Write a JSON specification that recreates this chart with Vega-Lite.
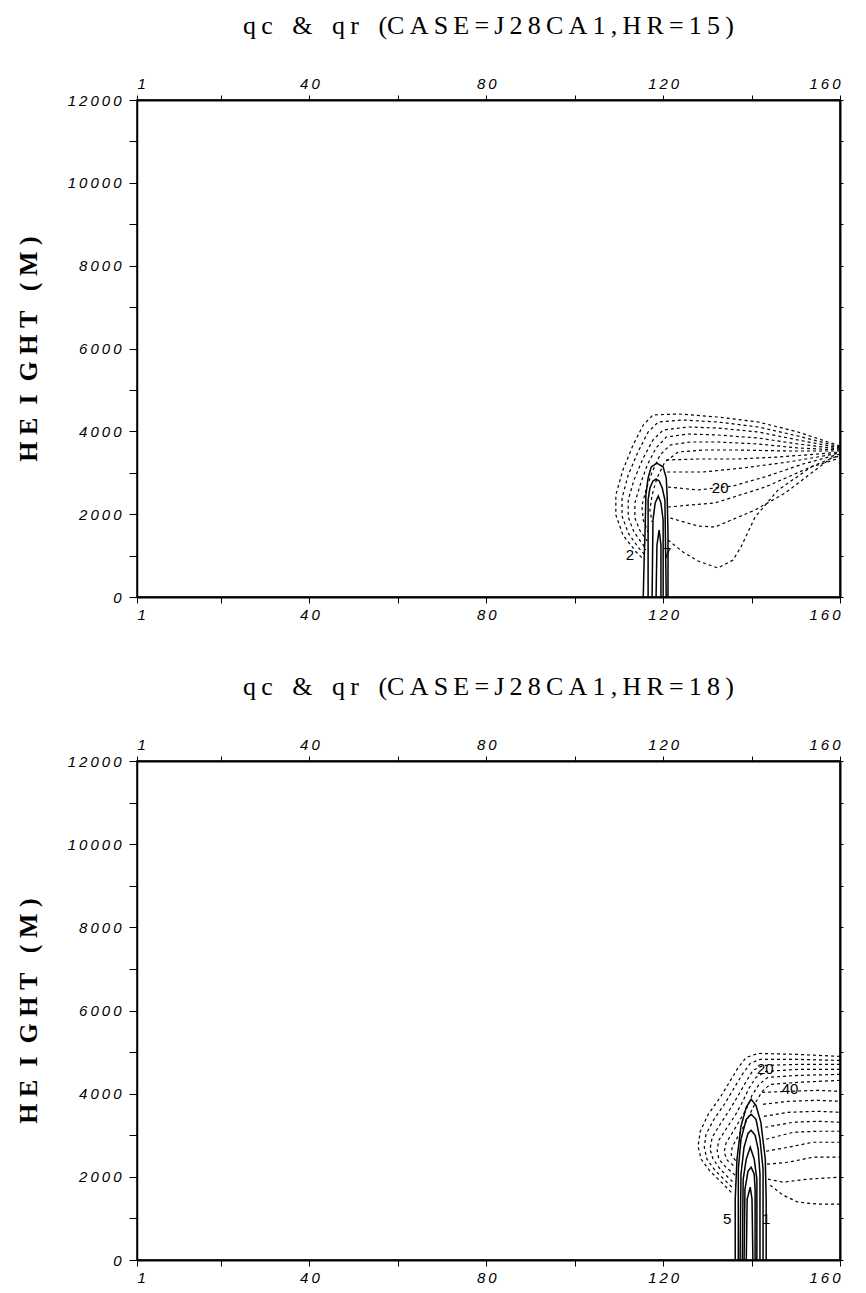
{
  "$schema": "https://vega.github.io/schema/vega-lite/v6.json",
  "background": "white",
  "padding": {"left": 14, "top": 12, "right": 10, "bottom": 5},
  "spacing": 50,
  "datasets": {
    "c15": [
      {"id":"A1","s":"dotted","x":160,"h":3646},{"id":"A1","s":"dotted","x":150.5,"h":3984},{"id":"A1","s":"dotted","x":141.5,"h":4225},{"id":"A1","s":"dotted","x":132.4,"h":4346},{"id":"A1","s":"dotted","x":123.4,"h":4420},{"id":"A1","s":"dotted","x":117.7,"h":4395},{"id":"A1","s":"dotted","x":115.5,"h":4153},{"id":"A1","s":"dotted","x":113.2,"h":3670},{"id":"A1","s":"dotted","x":110.9,"h":3066},{"id":"A1","s":"dotted","x":109.3,"h":2463},{"id":"A1","s":"dotted","x":109.3,"h":1980},{"id":"A1","s":"dotted","x":110.9,"h":1497},{"id":"A1","s":"dotted","x":113.9,"h":1087},{"id":"A1","s":"dotted","x":115.7,"h":893},
      {"id":"A2","s":"dotted","x":160,"h":3622},{"id":"A2","s":"dotted","x":150.5,"h":3887},{"id":"A2","s":"dotted","x":141.5,"h":4105},{"id":"A2","s":"dotted","x":132.4,"h":4225},{"id":"A2","s":"dotted","x":124.5,"h":4274},{"id":"A2","s":"dotted","x":118.9,"h":4225},{"id":"A2","s":"dotted","x":116.6,"h":3984},{"id":"A2","s":"dotted","x":114.3,"h":3501},{"id":"A2","s":"dotted","x":112.1,"h":2946},{"id":"A2","s":"dotted","x":110.7,"h":2390},{"id":"A2","s":"dotted","x":110.7,"h":1956},{"id":"A2","s":"dotted","x":112.1,"h":1545},{"id":"A2","s":"dotted","x":114.3,"h":1207},{"id":"A2","s":"dotted","x":115.9,"h":1014},
      {"id":"A3","s":"dotted","x":160,"h":3598},{"id":"A3","s":"dotted","x":150.5,"h":3791},{"id":"A3","s":"dotted","x":141.5,"h":3984},{"id":"A3","s":"dotted","x":132.4,"h":4080},{"id":"A3","s":"dotted","x":125.6,"h":4105},{"id":"A3","s":"dotted","x":120.0,"h":4032},{"id":"A3","s":"dotted","x":117.7,"h":3791},{"id":"A3","s":"dotted","x":115.5,"h":3356},{"id":"A3","s":"dotted","x":113.4,"h":2825},{"id":"A3","s":"dotted","x":112.1,"h":2342},{"id":"A3","s":"dotted","x":112.1,"h":1932},{"id":"A3","s":"dotted","x":113.4,"h":1569},{"id":"A3","s":"dotted","x":115.5,"h":1256},{"id":"A3","s":"dotted","x":116.1,"h":1135},
      {"id":"A4","s":"dotted","x":160,"h":3573},{"id":"A4","s":"dotted","x":150.5,"h":3694},{"id":"A4","s":"dotted","x":141.5,"h":3839},{"id":"A4","s":"dotted","x":132.4,"h":3911},{"id":"A4","s":"dotted","x":125.6,"h":3936},{"id":"A4","s":"dotted","x":120.7,"h":3863},{"id":"A4","s":"dotted","x":118.4,"h":3598},{"id":"A4","s":"dotted","x":116.4,"h":3187},{"id":"A4","s":"dotted","x":114.8,"h":2704},{"id":"A4","s":"dotted","x":113.6,"h":2270},{"id":"A4","s":"dotted","x":113.6,"h":1907},{"id":"A4","s":"dotted","x":114.8,"h":1594},{"id":"A4","s":"dotted","x":116.4,"h":1352},
      {"id":"A5","s":"dotted","x":160,"h":3549},{"id":"A5","s":"dotted","x":150.5,"h":3598},{"id":"A5","s":"dotted","x":141.5,"h":3694},{"id":"A5","s":"dotted","x":132.4,"h":3742},{"id":"A5","s":"dotted","x":126.1,"h":3742},{"id":"A5","s":"dotted","x":121.6,"h":3670},{"id":"A5","s":"dotted","x":119.3,"h":3429},{"id":"A5","s":"dotted","x":117.5,"h":3018},{"id":"A5","s":"dotted","x":116.1,"h":2584},{"id":"A5","s":"dotted","x":115.2,"h":2197},{"id":"A5","s":"dotted","x":115.5,"h":1859},{"id":"A5","s":"dotted","x":116.6,"h":1569},
      {"id":"A6","s":"dotted","x":160,"h":3525},{"id":"A6","s":"dotted","x":148.3,"h":3525},{"id":"A6","s":"dotted","x":137.0,"h":3549},{"id":"A6","s":"dotted","x":129.0,"h":3549},{"id":"A6","s":"dotted","x":123.4,"h":3501},{"id":"A6","s":"dotted","x":120.4,"h":3260},{"id":"A6","s":"dotted","x":118.6,"h":2873},{"id":"A6","s":"dotted","x":117.5,"h":2463},{"id":"A6","s":"dotted","x":117.0,"h":2101},{"id":"A6","s":"dotted","x":117.5,"h":1811},
      {"id":"B0a","s":"dotted","x":120.7,"h":3308},{"id":"B0a","s":"dotted","x":127.9,"h":3332},{"id":"B0a","s":"dotted","x":137.0,"h":3332},{"id":"B0a","s":"dotted","x":146.0,"h":3380},{"id":"B0a","s":"dotted","x":155.0,"h":3453},{"id":"B0a","s":"dotted","x":160,"h":3501},
      {"id":"B0b","s":"dotted","x":120.9,"h":3018},{"id":"B0b","s":"dotted","x":129.0,"h":3018},{"id":"B0b","s":"dotted","x":138.1,"h":3115},{"id":"B0b","s":"dotted","x":148.3,"h":3260},{"id":"B0b","s":"dotted","x":156.2,"h":3404},{"id":"B0b","s":"dotted","x":160,"h":3477},
      {"id":"B1","s":"dotted","x":121.1,"h":2656},{"id":"B1","s":"dotted","x":127.9,"h":2584},{"id":"B1","s":"dotted","x":135.8,"h":2680},{"id":"B1","s":"dotted","x":143.7,"h":2922},{"id":"B1","s":"dotted","x":151.6,"h":3211},{"id":"B1","s":"dotted","x":160,"h":3453},
      {"id":"B2","s":"dotted","x":121.1,"h":2173},{"id":"B2","s":"dotted","x":131.7,"h":2270},{"id":"B2","s":"dotted","x":143.1,"h":2656},{"id":"B2","s":"dotted","x":154.4,"h":3187},{"id":"B2","s":"dotted","x":160,"h":3429},
      {"id":"B3","s":"dotted","x":121.6,"h":1907},{"id":"B3","s":"dotted","x":127.9,"h":1714},{"id":"B3","s":"dotted","x":131.7,"h":1690},{"id":"B3","s":"dotted","x":140.8,"h":2101},{"id":"B3","s":"dotted","x":147.6,"h":2511},{"id":"B3","s":"dotted","x":158.0,"h":3356},{"id":"B3","s":"dotted","x":160,"h":3404},
      {"id":"B4","s":"dotted","x":121.1,"h":1376},{"id":"B4","s":"dotted","x":124.5,"h":1087},{"id":"B4","s":"dotted","x":127.9,"h":869},{"id":"B4","s":"dotted","x":132.4,"h":700},{"id":"B4","s":"dotted","x":135.8,"h":893},{"id":"B4","s":"dotted","x":137.6,"h":1207},{"id":"B4","s":"dotted","x":140.8,"h":1932},{"id":"B4","s":"dotted","x":146.0,"h":2584},{"id":"B4","s":"dotted","x":153.5,"h":3139},{"id":"B4","s":"dotted","x":160,"h":3356},
      {"id":"S1","s":"solid","x":115.5,"h":0},{"id":"S1","s":"solid","x":115.7,"h":893},{"id":"S1","s":"solid","x":115.9,"h":1545},{"id":"S1","s":"solid","x":116.1,"h":2463},{"id":"S1","s":"solid","x":116.6,"h":2873},{"id":"S1","s":"solid","x":117.3,"h":3139},{"id":"S1","s":"solid","x":118.6,"h":3235},{"id":"S1","s":"solid","x":120.0,"h":3139},{"id":"S1","s":"solid","x":120.7,"h":2873},{"id":"S1","s":"solid","x":120.9,"h":2463},{"id":"S1","s":"solid","x":121.1,"h":1545},{"id":"S1","s":"solid","x":121.1,"h":0},
      {"id":"S2","s":"solid","x":116.6,"h":0},{"id":"S2","s":"solid","x":116.6,"h":2342},{"id":"S2","s":"solid","x":117.0,"h":2632},{"id":"S2","s":"solid","x":117.7,"h":2801},{"id":"S2","s":"solid","x":118.4,"h":2849},{"id":"S2","s":"solid","x":119.1,"h":2801},{"id":"S2","s":"solid","x":119.8,"h":2632},{"id":"S2","s":"solid","x":120.4,"h":2342},{"id":"S2","s":"solid","x":120.7,"h":0},
      {"id":"S3","s":"solid","x":117.5,"h":0},{"id":"S3","s":"solid","x":117.7,"h":1859},{"id":"S3","s":"solid","x":118.2,"h":2270},{"id":"S3","s":"solid","x":118.9,"h":2439},{"id":"S3","s":"solid","x":119.5,"h":2270},{"id":"S3","s":"solid","x":120.0,"h":1859},{"id":"S3","s":"solid","x":120.0,"h":0},
      {"id":"S4","s":"solid","x":118.4,"h":0},{"id":"S4","s":"solid","x":118.6,"h":1256},{"id":"S4","s":"solid","x":119.1,"h":1618},{"id":"S4","s":"solid","x":119.5,"h":1256},{"id":"S4","s":"solid","x":119.5,"h":0}
    ],
    "l15": [
      {"t":"20","x":132.9,"h":2632},{"t":"2","x":112.5,"h":1014},{"t":"7","x":120.9,"h":1062}
    ],
    "c18": [
      {"id":"C1","s":"dotted","x":160,"h":4896},{"id":"C1","s":"dotted","x":150.5,"h":4944},{"id":"C1","s":"dotted","x":141.5,"h":4968},{"id":"C1","s":"dotted","x":138.8,"h":4872},{"id":"C1","s":"dotted","x":137.0,"h":4632},{"id":"C1","s":"dotted","x":135.1,"h":4296},{"id":"C1","s":"dotted","x":132.9,"h":3912},{"id":"C1","s":"dotted","x":130.2,"h":3504},{"id":"C1","s":"dotted","x":128.4,"h":3096},{"id":"C1","s":"dotted","x":127.9,"h":2736},{"id":"C1","s":"dotted","x":128.6,"h":2424},{"id":"C1","s":"dotted","x":130.6,"h":2136},{"id":"C1","s":"dotted","x":133.6,"h":1824},{"id":"C1","s":"dotted","x":135.8,"h":1584},
      {"id":"C2","s":"dotted","x":160,"h":4800},{"id":"C2","s":"dotted","x":150.5,"h":4824},{"id":"C2","s":"dotted","x":141.9,"h":4824},{"id":"C2","s":"dotted","x":139.7,"h":4728},{"id":"C2","s":"dotted","x":137.9,"h":4464},{"id":"C2","s":"dotted","x":136.0,"h":4128},{"id":"C2","s":"dotted","x":134.0,"h":3768},{"id":"C2","s":"dotted","x":131.5,"h":3384},{"id":"C2","s":"dotted","x":129.7,"h":3024},{"id":"C2","s":"dotted","x":129.3,"h":2712},{"id":"C2","s":"dotted","x":129.9,"h":2424},{"id":"C2","s":"dotted","x":131.7,"h":2160},{"id":"C2","s":"dotted","x":134.2,"h":1896},{"id":"C2","s":"dotted","x":136.0,"h":1704},
      {"id":"C3","s":"dotted","x":160,"h":4704},{"id":"C3","s":"dotted","x":150.5,"h":4704},{"id":"C3","s":"dotted","x":142.6,"h":4680},{"id":"C3","s":"dotted","x":140.3,"h":4560},{"id":"C3","s":"dotted","x":138.8,"h":4296},{"id":"C3","s":"dotted","x":137.0,"h":3960},{"id":"C3","s":"dotted","x":135.1,"h":3624},{"id":"C3","s":"dotted","x":132.9,"h":3264},{"id":"C3","s":"dotted","x":131.1,"h":2952},{"id":"C3","s":"dotted","x":130.6,"h":2664},{"id":"C3","s":"dotted","x":131.3,"h":2424},{"id":"C3","s":"dotted","x":132.9,"h":2184},{"id":"C3","s":"dotted","x":135.1,"h":1944},{"id":"C3","s":"dotted","x":136.3,"h":1824},
      {"id":"C4","s":"dotted","x":160,"h":4584},{"id":"C4","s":"dotted","x":150.5,"h":4584},{"id":"C4","s":"dotted","x":143.3,"h":4536},{"id":"C4","s":"dotted","x":141.0,"h":4392},{"id":"C4","s":"dotted","x":139.4,"h":4128},{"id":"C4","s":"dotted","x":137.9,"h":3792},{"id":"C4","s":"dotted","x":136.3,"h":3480},{"id":"C4","s":"dotted","x":134.2,"h":3144},{"id":"C4","s":"dotted","x":132.6,"h":2880},{"id":"C4","s":"dotted","x":132.2,"h":2640},{"id":"C4","s":"dotted","x":132.6,"h":2424},{"id":"C4","s":"dotted","x":134.2,"h":2232},{"id":"C4","s":"dotted","x":136.3,"h":2040},
      {"id":"C5","s":"dotted","x":160,"h":4464},{"id":"C5","s":"dotted","x":150.5,"h":4440},{"id":"C5","s":"dotted","x":143.7,"h":4392},{"id":"C5","s":"dotted","x":141.7,"h":4224},{"id":"C5","s":"dotted","x":140.1,"h":3960},{"id":"C5","s":"dotted","x":138.8,"h":3624},{"id":"C5","s":"dotted","x":137.2,"h":3336},{"id":"C5","s":"dotted","x":135.6,"h":3048},{"id":"C5","s":"dotted","x":134.2,"h":2808},{"id":"C5","s":"dotted","x":133.8,"h":2592},{"id":"C5","s":"dotted","x":134.5,"h":2400},{"id":"C5","s":"dotted","x":136.3,"h":2232},
      {"id":"C6","s":"dotted","x":160,"h":4320},{"id":"C6","s":"dotted","x":150.5,"h":4272},{"id":"C6","s":"dotted","x":144.2,"h":4224},{"id":"C6","s":"dotted","x":142.4,"h":4056},{"id":"C6","s":"dotted","x":140.8,"h":3768},{"id":"C6","s":"dotted","x":139.4,"h":3456},{"id":"C6","s":"dotted","x":138.1,"h":3192},{"id":"C6","s":"dotted","x":136.7,"h":2928},{"id":"C6","s":"dotted","x":135.6,"h":2712},{"id":"C6","s":"dotted","x":135.4,"h":2520},{"id":"C6","s":"dotted","x":136.5,"h":2376},
      {"id":"D0","s":"dotted","x":142.4,"h":4032},{"id":"D0","s":"dotted","x":148.3,"h":4056},{"id":"D0","s":"dotted","x":155.0,"h":4080},{"id":"D0","s":"dotted","x":160,"h":4056},
      {"id":"D1","s":"dotted","x":142.6,"h":3744},{"id":"D1","s":"dotted","x":148.3,"h":3816},{"id":"D1","s":"dotted","x":155.0,"h":3840},{"id":"D1","s":"dotted","x":160,"h":3816},
      {"id":"D2","s":"dotted","x":142.8,"h":3456},{"id":"D2","s":"dotted","x":148.3,"h":3552},{"id":"D2","s":"dotted","x":155.0,"h":3576},{"id":"D2","s":"dotted","x":160,"h":3552},
      {"id":"D3","s":"dotted","x":143.1,"h":3192},{"id":"D3","s":"dotted","x":149.4,"h":3312},{"id":"D3","s":"dotted","x":155.0,"h":3336},{"id":"D3","s":"dotted","x":160,"h":3312},
      {"id":"D4","s":"dotted","x":143.3,"h":2904},{"id":"D4","s":"dotted","x":149.4,"h":3072},{"id":"D4","s":"dotted","x":155.0,"h":3096},{"id":"D4","s":"dotted","x":160,"h":3096},
      {"id":"D5","s":"dotted","x":143.3,"h":2616},{"id":"D5","s":"dotted","x":148.3,"h":2712},{"id":"D5","s":"dotted","x":153.9,"h":2832},{"id":"D5","s":"dotted","x":160,"h":2832},
      {"id":"D6","s":"dotted","x":143.5,"h":2304},{"id":"D6","s":"dotted","x":148.3,"h":2352},{"id":"D6","s":"dotted","x":153.9,"h":2472},{"id":"D6","s":"dotted","x":160,"h":2472},
      {"id":"D7","s":"dotted","x":143.7,"h":1944},{"id":"D7","s":"dotted","x":147.1,"h":1872},{"id":"D7","s":"dotted","x":152.8,"h":1944},{"id":"D7","s":"dotted","x":160,"h":1992},
      {"id":"D8","s":"dotted","x":144.2,"h":1800},{"id":"D8","s":"dotted","x":147.1,"h":1560},{"id":"D8","s":"dotted","x":150.5,"h":1392},{"id":"D8","s":"dotted","x":155.0,"h":1344},{"id":"D8","s":"dotted","x":160,"h":1344},
      {"id":"E1","s":"solid","x":136.3,"h":0},{"id":"E1","s":"solid","x":136.3,"h":1464},{"id":"E1","s":"solid","x":136.7,"h":2424},{"id":"E1","s":"solid","x":137.6,"h":3216},{"id":"E1","s":"solid","x":138.8,"h":3672},{"id":"E1","s":"solid","x":139.9,"h":3864},{"id":"E1","s":"solid","x":141.0,"h":3720},{"id":"E1","s":"solid","x":142.1,"h":3312},{"id":"E1","s":"solid","x":143.1,"h":2424},{"id":"E1","s":"solid","x":143.3,"h":1464},{"id":"E1","s":"solid","x":143.3,"h":0},
      {"id":"E2","s":"solid","x":137.0,"h":0},{"id":"E2","s":"solid","x":137.0,"h":2184},{"id":"E2","s":"solid","x":137.6,"h":2904},{"id":"E2","s":"solid","x":138.8,"h":3384},{"id":"E2","s":"solid","x":139.9,"h":3504},{"id":"E2","s":"solid","x":141.0,"h":3384},{"id":"E2","s":"solid","x":141.9,"h":2904},{"id":"E2","s":"solid","x":142.6,"h":2184},{"id":"E2","s":"solid","x":142.6,"h":0},
      {"id":"E3","s":"solid","x":137.4,"h":0},{"id":"E3","s":"solid","x":137.6,"h":2064},{"id":"E3","s":"solid","x":138.3,"h":2712},{"id":"E3","s":"solid","x":139.2,"h":3048},{"id":"E3","s":"solid","x":139.9,"h":3120},{"id":"E3","s":"solid","x":140.8,"h":3000},{"id":"E3","s":"solid","x":141.5,"h":2664},{"id":"E3","s":"solid","x":141.9,"h":2064},{"id":"E3","s":"solid","x":141.9,"h":0},
      {"id":"E4","s":"solid","x":137.9,"h":0},{"id":"E4","s":"solid","x":138.1,"h":1944},{"id":"E4","s":"solid","x":138.8,"h":2424},{"id":"E4","s":"solid","x":139.7,"h":2712},{"id":"E4","s":"solid","x":140.6,"h":2424},{"id":"E4","s":"solid","x":141.2,"h":1944},{"id":"E4","s":"solid","x":141.2,"h":0},
      {"id":"E5","s":"solid","x":138.3,"h":0},{"id":"E5","s":"solid","x":138.5,"h":1704},{"id":"E5","s":"solid","x":139.2,"h":2136},{"id":"E5","s":"solid","x":139.9,"h":2232},{"id":"E5","s":"solid","x":140.6,"h":2064},{"id":"E5","s":"solid","x":140.8,"h":1704},{"id":"E5","s":"solid","x":140.8,"h":0},
      {"id":"E6","s":"solid","x":138.8,"h":0},{"id":"E6","s":"solid","x":139.0,"h":1464},{"id":"E6","s":"solid","x":139.7,"h":1752},{"id":"E6","s":"solid","x":140.1,"h":1464},{"id":"E6","s":"solid","x":140.3,"h":0}
    ],
    "l18": [
      {"t":"20","x":143.1,"h":4584},{"t":"40","x":148.7,"h":4104},{"t":"5","x":134.5,"h":984},{"t":"1","x":143.3,"h":984}
    ]
  },
  "vconcat": [
    {
      "title": {"text": "q\u2009c\u00a0\u00a0\u00a0&\u00a0\u00a0\u00a0q\u2009r\u00a0\u00a0\u00a0(C\u2009A\u2009S\u2009E\u2009=\u2009J\u20092\u20098\u2009C\u2009A\u20091\u2009,\u2009H\u2009R\u2009=\u20091\u20095\u2009)"},
      "width": 703,
      "height": 497,
      "layer": [
        {
          "data": {"name": "c15"},
          "mark": {"type": "line", "color": "black"},
          "encoding": {
            "x": {"field": "x", "type": "quantitative", "scale": {"domain": [1, 160], "nice": false, "zero": false},
                  "axis": {"orient": "bottom", "title": null, "values": [1,20,40,60,80,100,120,140,160], "format": "d", "labelExpr": "(datum.value == 1 || datum.value % 40 == 0) ? join(split(datum.label,''),'\u2009') : ''", "tickSize": 6, "labelPadding": 4, "domainWidth": 2}},
            "y": {"field": "h", "type": "quantitative", "scale": {"domain": [0, 12000], "nice": false},
                  "axis": {"orient": "left", "title": "H\u00a0E\u00a0\u00a0I\u00a0\u00a0G\u00a0H\u00a0T\u00a0\u00a0\u00a0(\u00a0M\u00a0)", "values": [0,1000,2000,3000,4000,5000,6000,7000,8000,9000,10000,11000,12000], "format": "d", "labelExpr": "datum.value % 2000 == 0 ? join(split(datum.label,''),'\u2009') : ''", "tickSize": 8, "labelPadding": 8, "domainWidth": 1.5}},
            "detail": {"field": "id"},
            "strokeDash": {"field": "s", "type": "nominal", "scale": {"domain": ["solid", "dotted"], "range": [[1, 0], [3, 3]]}, "legend": null},
            "strokeWidth": {"field": "s", "type": "nominal", "scale": {"domain": ["solid", "dotted"], "range": [1.5, 1.2]}, "legend": null},
            "order": {"value": null}
          }
        },
        {
          "data": {"name": "l15"},
          "mark": {"type": "text", "font": "Liberation Sans", "fontSize": 15, "color": "black"},
          "encoding": {
            "x": {"field": "x", "type": "quantitative", "scale": {"domain": [1, 160], "nice": false, "zero": false},
                  "axis": {"orient": "top", "title": null, "values": [1,20,40,60,80,100,120,140,160], "format": "d", "labelExpr": "(datum.value == 1 || datum.value % 40 == 0) ? join(split(datum.label,''),'\u2009') : ''", "tickSize": 5, "labelPadding": 4, "domainWidth": 2}},
            "y": {"field": "h", "type": "quantitative", "scale": {"domain": [0, 12000], "nice": false},
                  "axis": {"orient": "right", "title": null, "labels": false, "values": [0,1000,2000,3000,4000,5000,6000,7000,8000,9000,10000,11000,12000], "tickSize": 3, "domainWidth": 2}},
            "text": {"field": "t"}
          }
        }
      ],
      "resolve": {"axis": {"x": "independent", "y": "independent"}}
    },
    {
      "title": {"text": "q\u2009c\u00a0\u00a0\u00a0&\u00a0\u00a0\u00a0q\u2009r\u00a0\u00a0\u00a0(C\u2009A\u2009S\u2009E\u2009=\u2009J\u20092\u20098\u2009C\u2009A\u20091\u2009,\u2009H\u2009R\u2009=\u20091\u20098\u2009)"},
      "width": 703,
      "height": 499,
      "layer": [
        {
          "data": {"name": "c18"},
          "mark": {"type": "line", "color": "black"},
          "encoding": {
            "x": {"field": "x", "type": "quantitative", "scale": {"domain": [1, 160], "nice": false, "zero": false},
                  "axis": {"orient": "bottom", "title": null, "values": [1,20,40,60,80,100,120,140,160], "format": "d", "labelExpr": "(datum.value == 1 || datum.value % 40 == 0) ? join(split(datum.label,''),'\u2009') : ''", "tickSize": 6, "labelPadding": 4, "domainWidth": 2}},
            "y": {"field": "h", "type": "quantitative", "scale": {"domain": [0, 12000], "nice": false},
                  "axis": {"orient": "left", "title": "H\u00a0E\u00a0\u00a0I\u00a0\u00a0G\u00a0H\u00a0T\u00a0\u00a0\u00a0(\u00a0M\u00a0)", "values": [0,1000,2000,3000,4000,5000,6000,7000,8000,9000,10000,11000,12000], "format": "d", "labelExpr": "datum.value % 2000 == 0 ? join(split(datum.label,''),'\u2009') : ''", "tickSize": 8, "labelPadding": 8, "domainWidth": 1.5}},
            "detail": {"field": "id"},
            "strokeDash": {"field": "s", "type": "nominal", "scale": {"domain": ["solid", "dotted"], "range": [[1, 0], [3, 3]]}, "legend": null},
            "strokeWidth": {"field": "s", "type": "nominal", "scale": {"domain": ["solid", "dotted"], "range": [1.5, 1.2]}, "legend": null},
            "order": {"value": null}
          }
        },
        {
          "data": {"name": "l18"},
          "mark": {"type": "text", "font": "Liberation Sans", "fontSize": 15, "color": "black"},
          "encoding": {
            "x": {"field": "x", "type": "quantitative", "scale": {"domain": [1, 160], "nice": false, "zero": false},
                  "axis": {"orient": "top", "title": null, "values": [1,20,40,60,80,100,120,140,160], "format": "d", "labelExpr": "(datum.value == 1 || datum.value % 40 == 0) ? join(split(datum.label,''),'\u2009') : ''", "tickSize": 5, "labelPadding": 4, "domainWidth": 2}},
            "y": {"field": "h", "type": "quantitative", "scale": {"domain": [0, 12000], "nice": false},
                  "axis": {"orient": "right", "title": null, "labels": false, "values": [0,1000,2000,3000,4000,5000,6000,7000,8000,9000,10000,11000,12000], "tickSize": 3, "domainWidth": 2}},
            "text": {"field": "t"}
          }
        }
      ],
      "resolve": {"axis": {"x": "independent", "y": "independent"}}
    }
  ],
  "config": {
    "view": {"stroke": "black", "strokeWidth": 1.5},
    "axis": {
      "grid": false,
      "domainColor": "black",
      "tickColor": "black",
      "labelColor": "black",
      "labelFont": "Liberation Sans",
      "labelFontStyle": "italic",
      "labelFontSize": 15,
      "titleFont": "Liberation Serif",
      "titleFontWeight": "bold",
      "titleFontSize": 26,
      "titleColor": "black",
      "titlePadding": 26
    },
    "title": {
      "font": "Liberation Serif",
      "fontSize": 26,
      "fontWeight": "normal",
      "color": "black",
      "anchor": "middle",
      "offset": 37
    }
  }
}
